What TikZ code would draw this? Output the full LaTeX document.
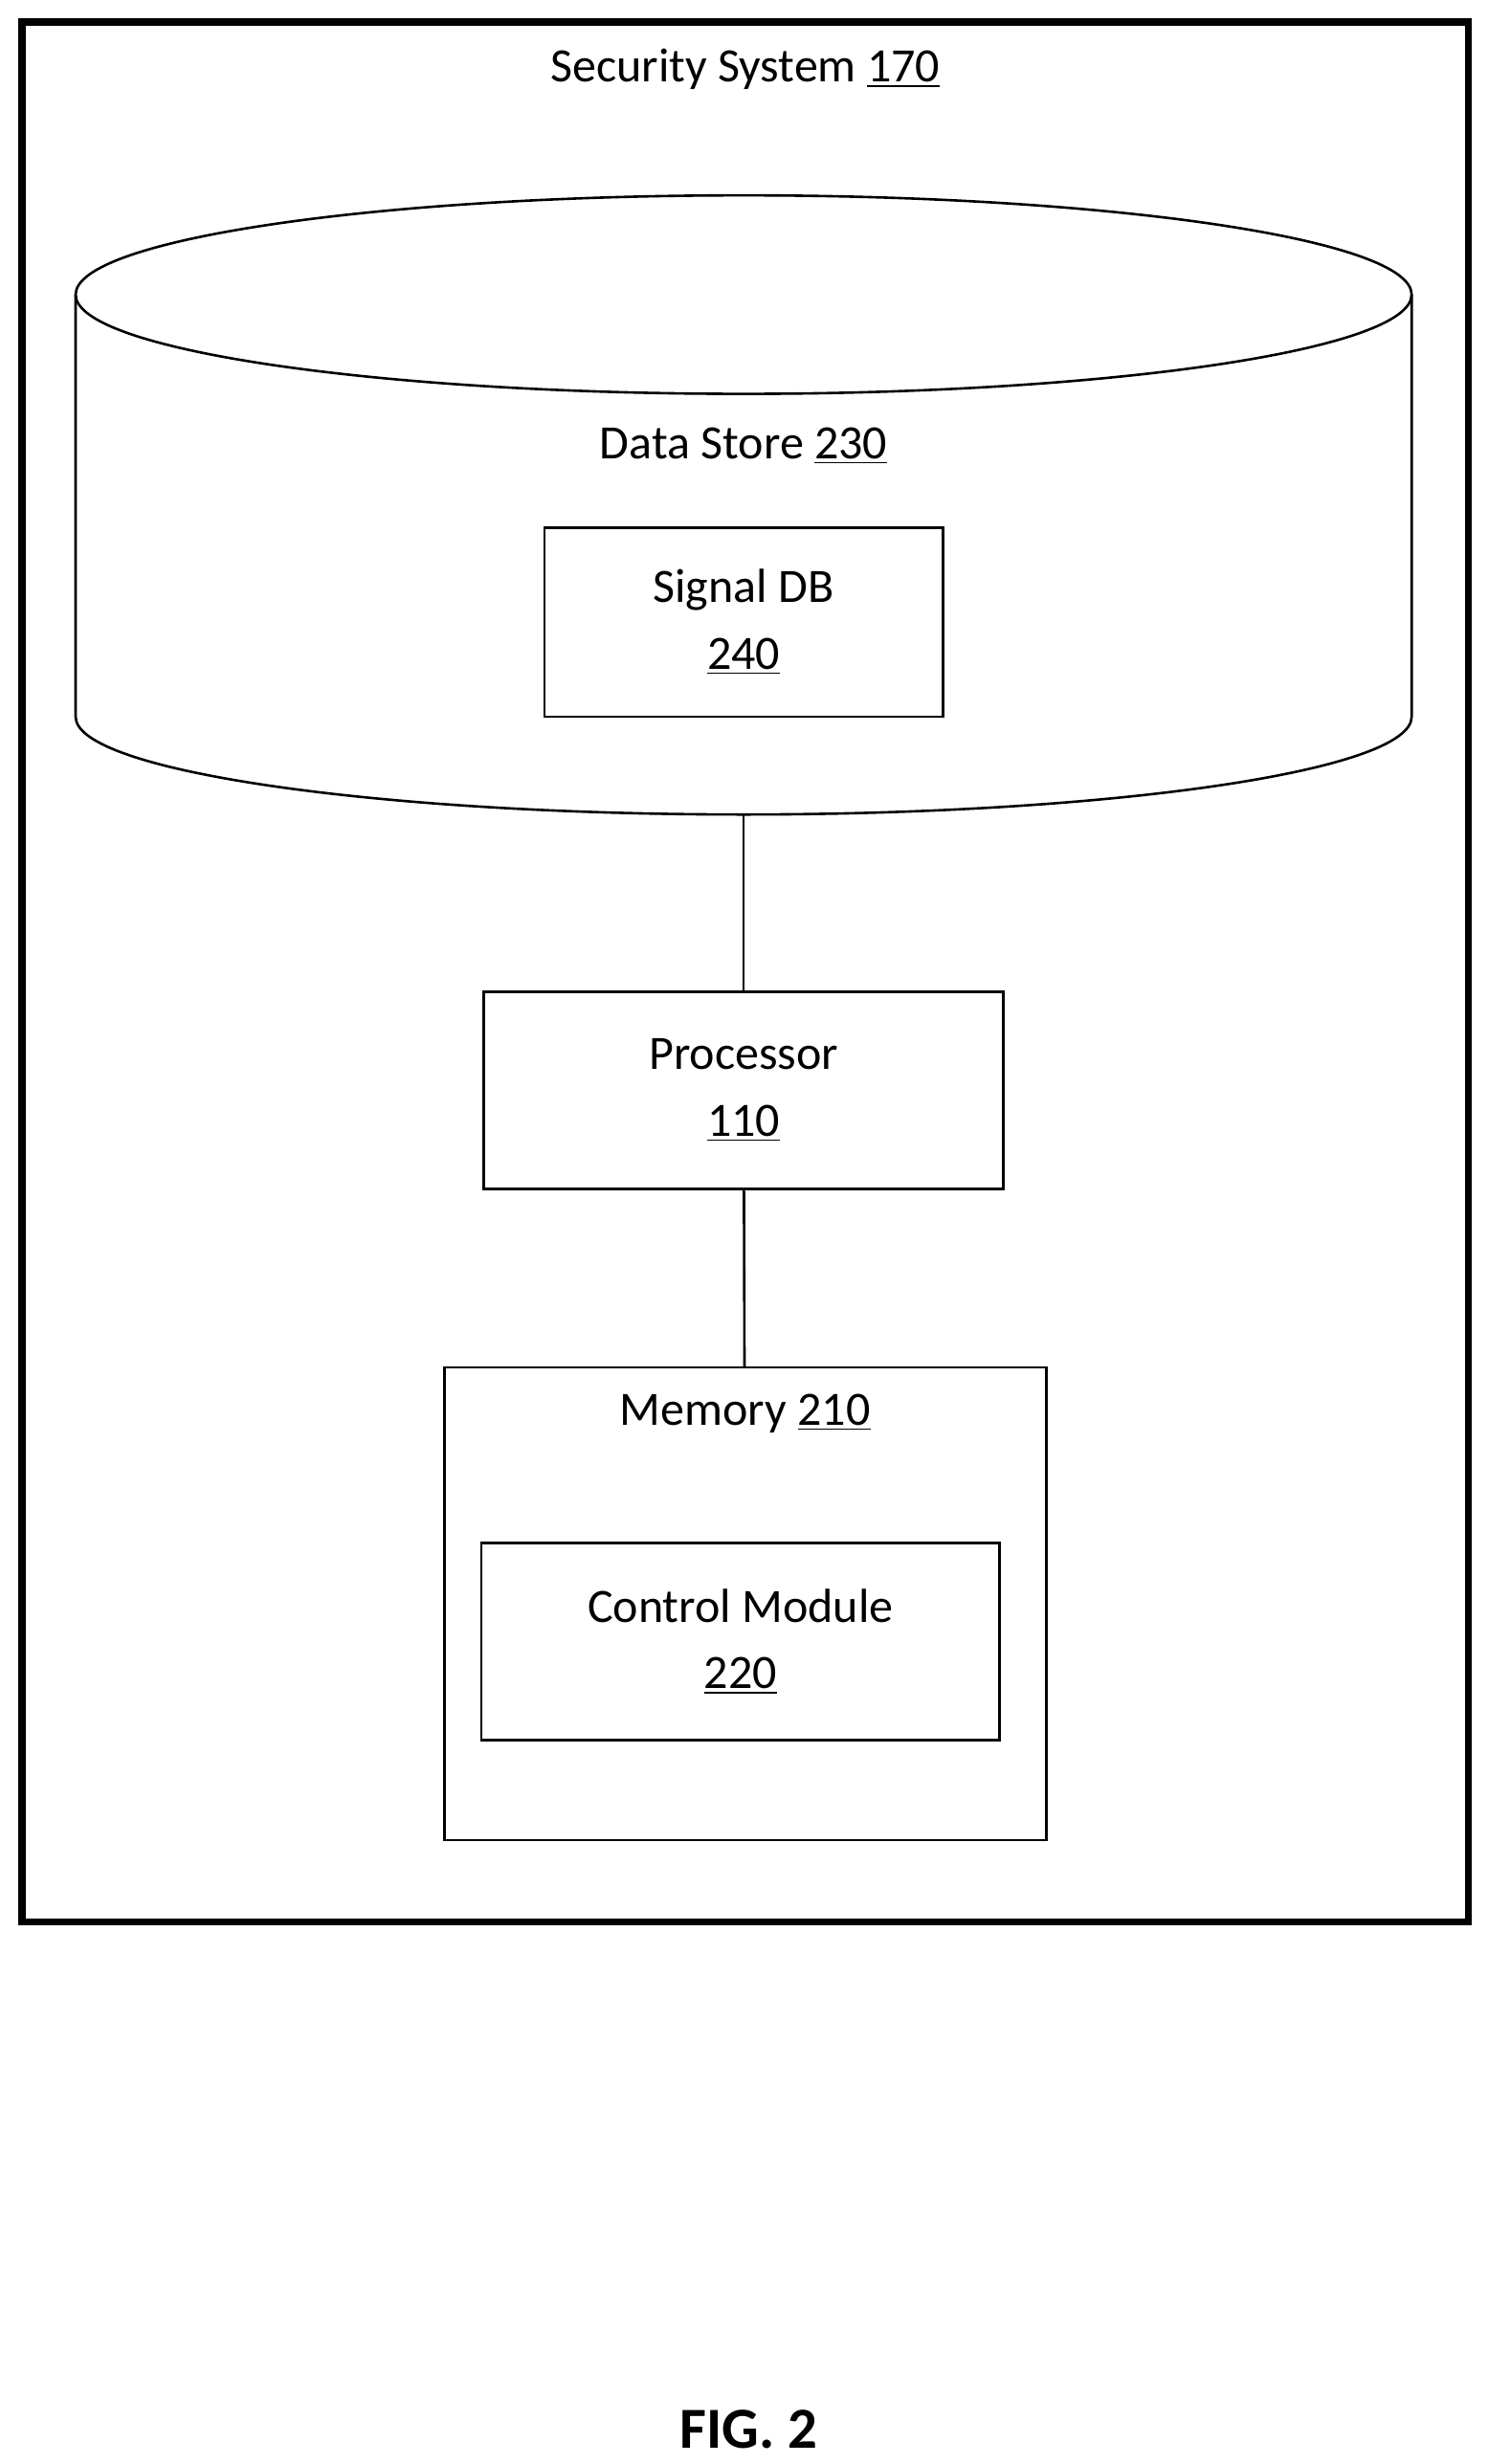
\documentclass[tikz,border=0pt]{standalone}
\usepackage{fontspec}
\setmainfont{Carlito}
\usetikzlibrary{positioning}
\begin{document}
\begin{tikzpicture}[x=0.02cm,y=-0.02cm,line width=0.9pt,
        font=\fontsize{17.3}{24}\selectfont]
        \tikzstyle{block}=[draw,rectangle,align=center,inner sep=0pt]
        \useasboundingbox (0,0) rectangle (944,1564);
        % outer frame
        \draw[line width=2.6pt] (14,14) rectangle (932,1220);
        \node (title) at (473,44) {Security System \underline{170}};
        % data store cylinder
        \draw (48,187) -- (48,455) arc[start angle=180,end angle=0,x radius=424,y radius=62]
              -- (896,187);
        \draw (472,187) ellipse [x radius=424,y radius=63];
        \coordinate (ds) at (472,517);
        \node (dslabel) at (472,283) {Data Store \underline{230}};
        \node[block,minimum width=253*0.02cm,minimum height=120*0.02cm] (sig) at (472,395)
            {Signal DB\\\underline{240}};
        % processor and memory
        \node[block,minimum width=330*0.02cm,minimum height=125*0.02cm] (proc) at (472,692)
            {Processor\\\underline{110}};
        \node[block,minimum width=382*0.02cm,minimum height=300*0.02cm] (mem) at (473,1018) {};
        \node (memlabel) at (473,897) {Memory \underline{210}};
        \node[block,minimum width=329*0.02cm,minimum height=125*0.02cm] (ctrl) at (470,1042)
            {Control Module\\\underline{220}};
        \draw (ds) -- (proc);
        \draw (proc) -- (mem);
        \node[font=\fontsize{21}{24}\selectfont\bfseries] (fig) at (475,1542) {FIG. 2};
\end{tikzpicture}
\end{document}
